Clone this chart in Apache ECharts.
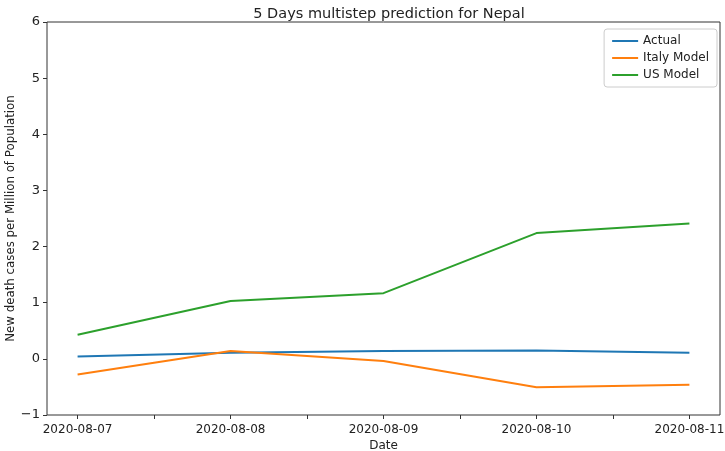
<!DOCTYPE html>
<html>
<head>
<meta charset="utf-8">
<script src="https://cdn.jsdelivr.net/npm/echarts@6/dist/echarts.min.js"></script>
<style>html,body{margin:0;padding:0;background:#fff}#c{width:725px;height:451px}</style>
</head>
<body>
<div id="c"></div>
<script>
const dates = ["2020-08-07", "2020-08-08", "2020-08-09", "2020-08-10", "2020-08-11"];
const actual = [0.04, 0.11, 0.14, 0.15, 0.11];
const italyModel = [-0.28, 0.14, -0.04, -0.505, -0.46];
const usModel = [0.43, 1.03, 1.17, 2.24, 2.41];
const yTicks = [-1, 0, 1, 2, 3, 4, 5, 6];

function pts(arr) { return arr.map((v, i) => [i, v]); }
const font = "DejaVu Sans";
const chart = echarts.init(document.getElementById('c'));
const lineSeries = (name, data, color) => ({
  name, type: 'line', data: pts(data), showSymbol: false, symbol: 'none',
  lineStyle: { color, width: 2 }, itemStyle: { color }, z: 3
});
chart.setOption({
  animation: false,
  textStyle: { fontFamily: font },
  title: {
    text: "5 Days multistep prediction for Nepal",
    left: 384, top: 2, textAlign: 'center',
    textStyle: { fontFamily: font, fontSize: 14.5, fontWeight: 'normal', color: '#222' }
  },
  grid: { left: 47, right: 5, top: 22, bottom: 36, show: true, borderColor: '#333', borderWidth: 1, backgroundColor: 'transparent', outerBoundsMode: 'none', containLabel: false },
  legend: {
    orient: 'vertical', right: 8, top: 29,
    data: [
      { name: 'Actual', icon: 'rect' },
      { name: 'Italy Model', icon: 'rect' },
      { name: 'US Model', icon: 'rect' }
    ],
    itemWidth: 26, itemHeight: 2, itemGap: 5,
    padding: [6, 8, 6, 8],
    borderColor: '#ccc', borderWidth: 1, borderRadius: 3,
    backgroundColor: '#fff',
    textStyle: { fontFamily: font, fontSize: 12, color: '#222' }
  },
  xAxis: {
    type: 'value', min: -0.2, max: 4.2,
    name: 'Date', nameLocation: 'middle', nameGap: 25, nameMoveOverlap: false,
    nameTextStyle: { fontFamily: font, fontSize: 12, color: '#222' },
    axisLine: { show: false, onZero: false },
    splitLine: { show: false },
    axisTick: { show: true, inside: false, length: 4, lineStyle: { color: '#333' }, customValues: [0, 0.5, 1, 1.5, 2, 2.5, 3, 3.5, 4] },
    axisLabel: {
      fontFamily: font, fontSize: 12, color: '#222', margin: 9,
      customValues: [0, 1, 2, 3, 4],
      formatter: v => dates[Math.round(v)] || ''
    }
  },
  yAxis: {
    type: 'value', min: -1, max: 6, interval: 1,
    name: 'New death cases per Million of Population', nameLocation: 'middle', nameGap: 30, nameMoveOverlap: false,
    nameTextStyle: { fontFamily: font, fontSize: 11.8, color: '#222' },
    axisLine: { show: false, onZero: false },
    splitLine: { show: false },
    axisTick: { show: true, inside: false, length: 4, lineStyle: { color: '#333' } },
    axisLabel: {
      fontFamily: font, fontSize: 13, color: '#222', margin: 7,
      customValues: yTicks,
      formatter: v => v < 0 ? '\u2212' + Math.abs(v) : String(v)
    }
  },
  series: [
    lineSeries('Actual', actual, '#1f77b4'),
    lineSeries('Italy Model', italyModel, '#ff7f0e'),
    lineSeries('US Model', usModel, '#2ca02c')
  ]
});
</script>
</body>
</html>
